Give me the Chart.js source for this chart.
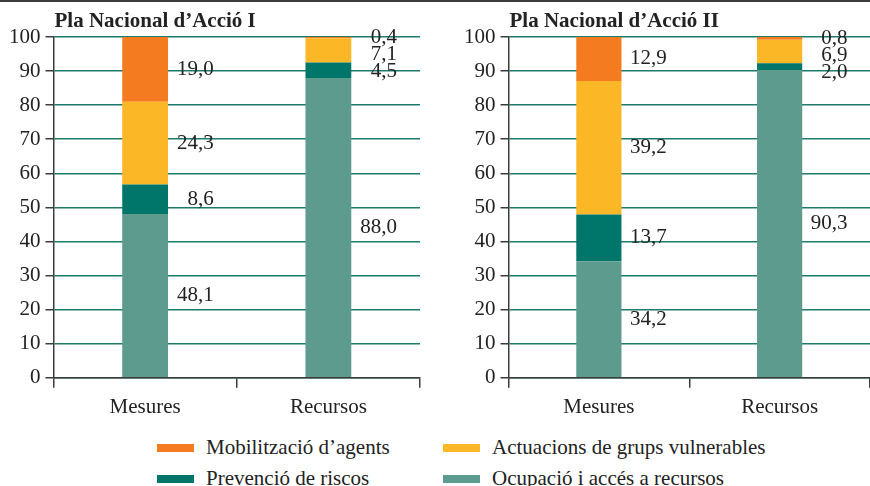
<!DOCTYPE html>
<html>
<head>
<meta charset="utf-8">
<script src="https://cdn.jsdelivr.net/npm/chart.js@4"></script>
<style>
    body { margin: 0; background: #fff; }
    #page {
        position: relative;
        width: 870px;
        height: 486px;
        overflow: hidden;
        border-top: 2px solid #3c3c3c;
        box-sizing: border-box;
        font-family: 'Liberation Serif', 'Times New Roman', serif;
    }
    .panel { position: absolute; top: -2px; width: 435px; height: 432px; }
    #panel1 { left: 0; }
    #panel2 { left: 435px; }
    #legend {
        position: absolute;
        left: 157px;
        top: 430px;
        display: grid;
        grid-template-columns: 286px 300px;
        grid-auto-rows: 31px;
        color: #222;
        font-size: 21px;
        white-space: nowrap;
    }
    .item { display: flex; align-items: center; }
    .swatch { flex: 0 0 37px; width: 37px; height: 8px; margin-right: 12px; }
</style>
</head>
<body>
<div id="page">
    <div class="panel" id="panel1"><canvas id="chart1"></canvas></div>
    <div class="panel" id="panel2"><canvas id="chart2"></canvas></div>
    <div id="legend"></div>
</div>
<script>
// Data
const categories = ['Mesures', 'Recursos'];
const seriesNames = ['Ocupació i accés a recursos', 'Prevenció de riscos', 'Actuacions de grups vulnerables', 'Mobilització d’agents'];
const seriesColors = ['#5c9b8e', '#00766a', '#fcb726', '#f47b20'];
const titles = ['Pla Nacional d’Acció I', 'Pla Nacional d’Acció II'];

const pla1Ocupacio = [48.1, 88.0];
const pla1Prevencio = [8.6, 4.5];
const pla1Actuacions = [24.3, 7.1];
const pla1Mobilitzacio = [19.0, 0.4];

const pla2Ocupacio = [34.2, 90.3];
const pla2Prevencio = [13.7, 2.0];
const pla2Actuacions = [39.2, 6.9];
const pla2Mobilitzacio = [12.9, 0.8];

const yMin = 0, yMax = 100, yStep = 10;

const FONT = "'Liberation Serif', 'Times New Roman', serif";
const TEXT = '#222';
const AXIS = '#3c3c3c';
const GRID = '#1d7b6c';

const fmt = v => v.toFixed(1).replace('.', ',');

// value labels to the right of each bar, pushed down when they would overlap
const valueLabels = {
    id: 'valueLabels',
    afterDatasetsDraw(chart) {
        const ctx = chart.ctx;
        const n = chart.data.datasets.length;
        ctx.save();
        ctx.font = '21px ' + FONT;
        ctx.fillStyle = TEXT;
        ctx.textAlign = 'right';
        ctx.textBaseline = 'middle';
        categories.forEach((_, i) => {
            let prev = -Infinity;
            for (let d = n - 1; d >= 0; d--) {
                const bar = chart.getDatasetMeta(d).data[i];
                const value = chart.data.datasets[d].data[i];
                const y = Math.max((bar.y + bar.base) / 2, prev + 17);
                ctx.fillText(fmt(value), bar.x + bar.width * 1.5, y);
                prev = y;
            }
        });
        ctx.restore();
    }
};

const panelTitle = {
    id: 'panelTitle',
    afterDraw(chart, args, opts) {
        const ctx = chart.ctx;
        ctx.save();
        ctx.font = 'bold 21px ' + FONT;
        ctx.fillStyle = TEXT;
        ctx.textAlign = 'left';
        ctx.textBaseline = 'alphabetic';
        ctx.fillText(opts.text, chart.chartArea.left + 1, chart.chartArea.top - 10);
        ctx.restore();
    }
};

function makeChart(id, title, series, padding) {
    return new Chart(document.getElementById(id), {
        type: 'bar',
        data: {
            labels: categories,
            datasets: series.map((data, i) => ({
                label: seriesNames[i],
                data: data,
                backgroundColor: seriesColors[i],
                borderWidth: 0,
                barPercentage: 0.25,
                categoryPercentage: 1
            }))
        },
        options: {
            responsive: false,
            animation: false,
            devicePixelRatio: 1,
            layout: { padding: padding },
            plugins: {
                legend: { display: false },
                tooltip: { enabled: false },
                panelTitle: { text: title }
            },
            scales: {
                x: {
                    stacked: true,
                    offset: true,
                    grid: {
                        offset: true,
                        drawOnChartArea: false,
                        color: AXIS,
                        tickLength: 10,
                        lineWidth: 1.5
                    },
                    border: { color: AXIS, width: 1.5 },
                    ticks: { color: TEXT, font: { family: FONT, size: 21 }, padding: 7.5 }
                },
                y: {
                    stacked: true,
                    min: yMin,
                    max: yMax,
                    grid: {
                        color: GRID,
                        tickColor: AXIS,
                        tickLength: 8,
                        lineWidth: 1.5
                    },
                    border: { color: AXIS, width: 1.5 },
                    ticks: { stepSize: yStep, color: TEXT, font: { family: FONT, size: 21 }, padding: 5 }
                }
            }
        },
        plugins: [valueLabels, panelTitle]
    });
}

function sizeCanvas(id) {
    const c = document.getElementById(id);
    c.width = 435;
    c.height = 432;
    c.style.width = '435px';
    c.style.height = '432px';
}

sizeCanvas('chart1');
sizeCanvas('chart2');

makeChart('chart1', titles[0],
    [pla1Ocupacio, pla1Prevencio, pla1Actuacions, pla1Mobilitzacio],
    { left: 4, right: 15, top: 37, bottom: 4 });
makeChart('chart2', titles[1],
    [pla2Ocupacio, pla2Prevencio, pla2Actuacions, pla2Mobilitzacio],
    { left: 24, right: 0, top: 37, bottom: 4 });

// shared legend, in the reference's order
const legend = document.getElementById('legend');
[3, 2, 1, 0].forEach(i => {
    const item = document.createElement('div');
    item.className = 'item';
    item.innerHTML = '<span class="swatch" style="background:' + seriesColors[i] + '"></span>' + seriesNames[i];
    legend.appendChild(item);
});
</script>
</body>
</html>
